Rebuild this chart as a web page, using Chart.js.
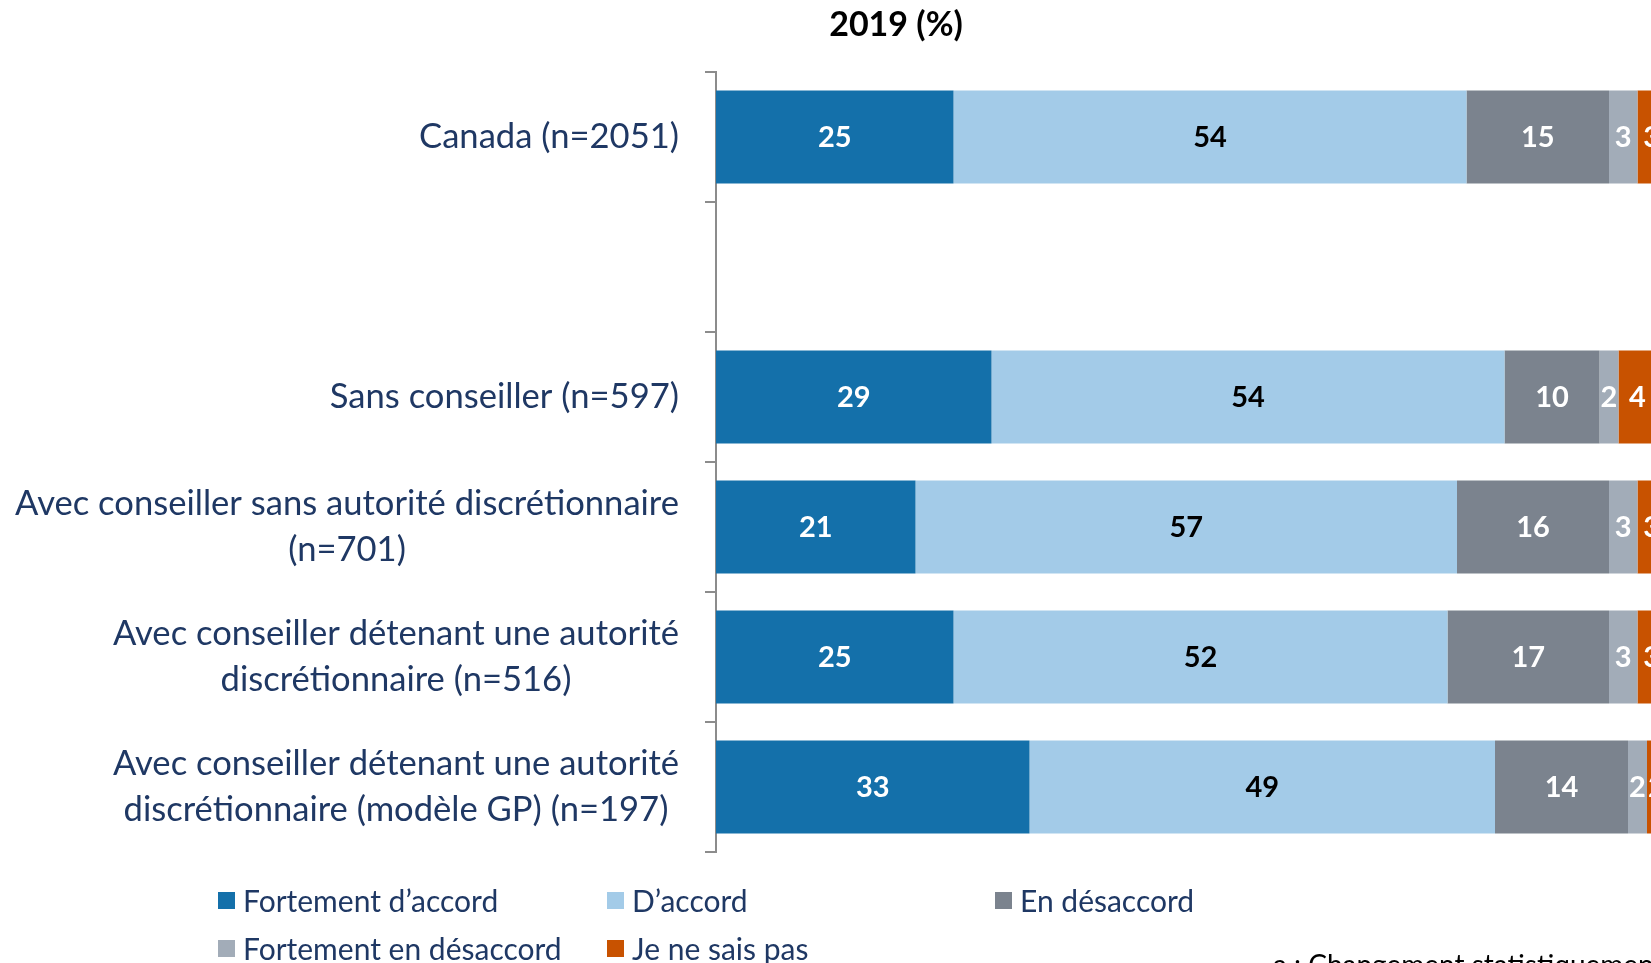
<!DOCTYPE html>
<html lang="fr">
<head>
<meta charset="utf-8">
<title>2019 (%)</title>
<script src="https://cdn.jsdelivr.net/npm/chart.js@4.4.1/dist/chart.umd.min.js"></script>
<style>
  html, body { margin: 0; padding: 0; background: #fff; }
  #frame { position: relative; width: 1651px; height: 963px; overflow: hidden; background: #fff; }
  #wrap { position: absolute; left: 0; top: 0; width: 1792px; height: 963px; }
  #legend { position: absolute; left: 0; top: 0; width: 1651px; height: 963px; pointer-events: none; }
  .item { position: absolute; display: flex; align-items: center; transform: translateY(-50%);
          font: 30px Lato, sans-serif; color: #1F3864; white-space: nowrap; }
  .swatch { width: 17px; height: 17px; margin-right: 8px; flex: none; }
  #note { position: absolute; left: 1273px; top: 950px; font: 28px Lato, sans-serif; line-height: 28px;
          color: #000; white-space: nowrap; }
</style>
</head>
<body>
<div id="frame">
  <div id="wrap"><canvas id="chart"></canvas></div>
  <div id="legend"></div>
  <div id="note">a : Changement statistiquement</div>
</div>
<script>
// Categories (the second row is an intentional blank spacer)
const categories = [
  'Canada (n=2051)',
  '',
  'Sans conseiller (n=597)',
  ['Avec conseiller sans autorité discrétionnaire', '(n=701)'],
  ['Avec conseiller détenant une autorité', 'discrétionnaire (n=516)'],
  ['Avec conseiller détenant une autorité', 'discrétionnaire (modèle GP) (n=197)']
];

const seriesNames = ['Fortement d’accord', 'D’accord', 'En désaccord', 'Fortement en désaccord', 'Je ne sais pas'];

// Percentages per category
const fortementDaccord     = [25, null, 29, 21, 25, 33];
const daccord              = [54, null, 54, 57, 52, 49];
const enDesaccord          = [15, null, 10, 16, 17, 14];
const fortementEnDesaccord = [3,  null, 2,  3,  3,  2];
const jeNeSaisPas          = [3,  null, 4,  3,  3,  2];

const chartTitle = '2019 (%)';

// Styling
const fills = ['#1470AA', '#A3CBE8', '#7B838E', '#A2ACB8', '#C85200'];
const valueColors = ['#FFFFFF', '#000000', '#FFFFFF', '#FFFFFF', '#FFFFFF'];
const labelInk = '#1F3864';
const axisInk = '#8C8C8C';

const seriesValues = [fortementDaccord, daccord, enDesaccord, fortementEnDesaccord, jeNeSaisPas];

// Centre each multi-line category label under its widest line, flush against the axis
const categoryLabels = {
  id: 'categoryLabels',
  afterDraw(chart) {
    const scale = chart.scales.y;
    const ctx = chart.ctx;
    const rightEdge = scale.right - 11 - 26;
    const lineGap = 46;
    ctx.save();
    ctx.font = '34.6px Lato, sans-serif';
    ctx.fillStyle = labelInk;
    ctx.textAlign = 'center';
    ctx.textBaseline = 'middle';
    categories.forEach((label, i) => {
      const lines = Array.isArray(label) ? label : [label];
      if (!lines.join('')) return;
      const widest = Math.max(...lines.map(l => ctx.measureText(l).width));
      const cx = rightEdge - widest / 2;
      const cy = scale.getPixelForValue(i);
      const top = cy - (lines.length - 1) * lineGap / 2;
      lines.forEach((l, k) => ctx.fillText(l, cx, top + k * lineGap));
    });
    ctx.restore();
  }
};

// Value printed in the middle of every segment
const segmentValues = {
  id: 'segmentValues',
  afterDatasetsDraw(chart) {
    const ctx = chart.ctx;
    ctx.save();
    ctx.font = 'bold 29px Lato, sans-serif';
    ctx.textAlign = 'center';
    ctx.textBaseline = 'middle';
    chart.data.datasets.forEach((ds, di) => {
      const meta = chart.getDatasetMeta(di);
      ctx.fillStyle = valueColors[di];
      meta.data.forEach((bar, i) => {
        const v = ds.data[i];
        if (v === null || v === undefined) return;
        const p = bar.getProps(['x', 'y', 'base'], true);
        ctx.fillText(String(v), (p.x + p.base) / 2, p.y + 1);
      });
    });
    ctx.restore();
  }
};

function buildLegend() {
  const host = document.getElementById('legend');
  const cols = [218, 607, 995];
  const rows = [900, 948];
  seriesNames.forEach((name, i) => {
    const item = document.createElement('div');
    item.className = 'item';
    item.style.left = cols[i % 3] + 'px';
    item.style.top = rows[Math.floor(i / 3)] + 'px';
    const sw = document.createElement('span');
    sw.className = 'swatch';
    sw.style.background = fills[i];
    const tx = document.createElement('span');
    tx.textContent = name;
    item.appendChild(sw);
    item.appendChild(tx);
    host.appendChild(item);
  });
}

function draw() {
  buildLegend();
  new Chart(document.getElementById('chart'), {
    type: 'bar',
    data: {
      labels: categories,
      datasets: seriesNames.map((name, i) => ({
        label: name,
        data: seriesValues[i],
        backgroundColor: fills[i],
        borderWidth: 0,
        barPercentage: 0.715,
        categoryPercentage: 1
      }))
    },
    options: {
      indexAxis: 'y',
      responsive: true,
      maintainAspectRatio: false,
      animation: false,
      devicePixelRatio: 1,
      layout: { padding: { left: 126, right: 126, top: 0, bottom: 111 } },
      plugins: {
        legend: { display: false },
        tooltip: { enabled: false },
        title: {
          display: true,
          text: chartTitle,
          color: '#000',
          font: { family: 'Lato, sans-serif', size: 34, weight: 'bold' },
          padding: { top: 4.5, bottom: 26.7 }
        }
      },
      scales: {
        x: { stacked: true, min: 0, max: 100, display: false },
        y: {
          stacked: true,
          offset: true,
          grid: { offset: true, drawOnChartArea: false, drawTicks: true, tickLength: 11, color: axisInk, lineWidth: 2 },
          border: { display: true, color: axisInk, width: 2 },
          ticks: { color: 'rgba(0,0,0,0)', padding: 24, font: { family: 'Lato, sans-serif', size: 34 } },
          afterFit(scale) { scale.width = 590; }
        }
      }
    },
    plugins: [categoryLabels, segmentValues]
  });
}

Promise.all([
  document.fonts.load('34px Lato'),
  document.fonts.load('bold 29px Lato')
]).then(draw, draw);
</script>
</body>
</html>
